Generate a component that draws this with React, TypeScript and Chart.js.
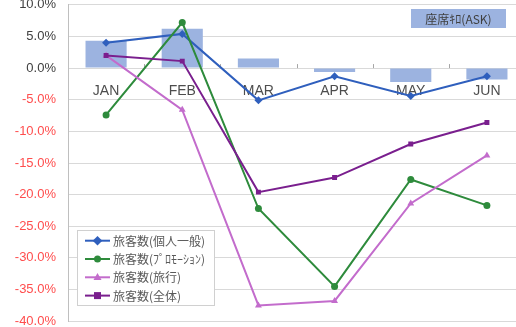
import React, { useEffect, useRef } from "react";
import { Chart, registerables } from "chart.js";

Chart.register(...registerables);

// Month-on-month change, %
const months = ["JAN", "FEB", "MAR", "APR", "MAY", "JUN"];
const seatKm = [4.3, 6.2, 1.5, -0.6, -2.2, -1.8];
const individual = [4.0, 5.4, -5.1, -1.3, -4.4, -1.3];
const promotion = [-7.4, 7.2, -22.2, -34.5, -17.6, -21.7];
const tour = [2.0, -6.6, -37.5, -36.8, -21.4, -13.8];
const total = [2.0, 1.1, -19.6, -17.3, -12.0, -8.6];

const seatKmLabel = "座席ｷﾛ(ASK)";
const lineLabels = ["旅客数(個人一般)", "旅客数(ﾌﾟﾛﾓｰｼｮﾝ)", "旅客数(旅行)", "旅客数(全体)"];

const Y_MIN = -40;
const Y_MAX = 10;
const Y_STEP = 5;

const BAR_COLOR = "#9cb3e0";
const LINE_COLORS = ["#2f5fbd", "#2e8b3c", "#c36ccc", "#7a1f8e"];
const POINT_STYLES = ["rectRot", "circle", "triangle", "rect"];
const POINT_RADII = [4, 3.5, 4, 3.5];

const LATIN = "'Liberation Sans', Arial, sans-serif";
const CJK = "'Noto Sans CJK JP', 'Liberation Sans', sans-serif";

const CANVAS_W = 529;
const CANVAS_H = 356;
const CANVAS_TOP = -15;

function drawMarker(ctx: CanvasRenderingContext2D, style: string, x: number, y: number, r: number, color: string) {
  ctx.save();
  ctx.fillStyle = color;
  ctx.beginPath();
  if (style === "circle") {
    ctx.arc(x, y, r, 0, Math.PI * 2);
  } else if (style === "rect") {
    ctx.rect(x - r, y - r, r * 2, r * 2);
  } else if (style === "rectRot") {
    ctx.moveTo(x, y - r * 1.2);
    ctx.lineTo(x + r * 1.2, y);
    ctx.lineTo(x, y + r * 1.2);
    ctx.lineTo(x - r * 1.2, y);
    ctx.closePath();
  } else {
    ctx.moveTo(x, y - r * 1.1);
    ctx.lineTo(x + r, y + r * 0.7);
    ctx.lineTo(x - r, y + r * 0.7);
    ctx.closePath();
  }
  ctx.fill();
  ctx.restore();
}

const decorations = {
  id: "decorations",
  beforeDatasetsDraw(chart: any) {
    const { ctx } = chart;
    const x = chart.scales.x;
    const y = chart.scales.y;
    const y0 = y.getPixelForValue(0);
    ctx.save();
    // category boundary ticks on the zero line
    ctx.strokeStyle = "#a6a6a6";
    ctx.lineWidth = 1;
    for (let i = 0; i < months.length - 1; i++) {
      const bx = Math.round((x.getPixelForValue(i) + x.getPixelForValue(i + 1)) / 2) + 0.5;
      ctx.beginPath();
      ctx.moveTo(bx, y0 - 4);
      ctx.lineTo(bx, y0);
      ctx.stroke();
    }
    // month labels below the zero line
    ctx.fillStyle = "#4d4d4d";
    ctx.font = `14px ${LATIN}`;
    ctx.textAlign = "center";
    ctx.textBaseline = "middle";
    months.forEach((m, i) => {
      ctx.fillText(m, x.getPixelForValue(i), y0 + 23);
    });
    ctx.restore();
  },
  afterDraw(chart: any) {
    const { ctx } = chart;
    ctx.save();
    // seat-km legend, top right
    const ax = 411, ay = 9 - CANVAS_TOP, aw = 95, ah = 19;
    ctx.fillStyle = BAR_COLOR;
    ctx.fillRect(ax, ay, aw, ah);
    ctx.fillStyle = "#404040";
    ctx.font = `12px ${CJK}`;
    ctx.textAlign = "center";
    ctx.textBaseline = "middle";
    ctx.fillText(seatKmLabel, ax + aw / 2, ay + ah / 2 + 0.5);

    // line-series legend, bottom left
    const lx = 77.5, ly = 230.5 - CANVAS_TOP, lw = 137, lh = 75;
    ctx.fillStyle = "#ffffff";
    ctx.fillRect(lx, ly, lw, lh);
    ctx.strokeStyle = "#d0d0d0";
    ctx.lineWidth = 1;
    ctx.strokeRect(lx, ly, lw, lh);
    ctx.font = `12px ${CJK}`;
    ctx.textAlign = "left";
    lineLabels.forEach((label, i) => {
      const ry = 240.7 - CANVAS_TOP + i * 18.3;
      ctx.strokeStyle = LINE_COLORS[i];
      ctx.lineWidth = 2;
      ctx.beginPath();
      ctx.moveTo(85, ry);
      ctx.lineTo(110, ry);
      ctx.stroke();
      drawMarker(ctx, POINT_STYLES[i], 97.5, ry, POINT_RADII[i], LINE_COLORS[i]);
      ctx.fillStyle = "#595959";
      ctx.fillText(label, 113, ry + 0.5);
    });
    ctx.restore();
  },
};

export default function App() {
  const ref = useRef<HTMLCanvasElement | null>(null);

  useEffect(() => {
    if (!ref.current) return;
    const lineSeries = [individual, promotion, tour, total];
    const chart = new Chart(ref.current, {
      type: "bar",
      data: {
        labels: months,
        datasets: [
          {
            type: "bar",
            label: seatKmLabel,
            data: seatKm,
            backgroundColor: BAR_COLOR,
            borderWidth: 0,
            barPercentage: 0.54,
            categoryPercentage: 1,
            order: 10,
          } as any,
          ...lineSeries.map((data, i) => ({
            type: "line",
            label: lineLabels[i],
            data,
            borderColor: LINE_COLORS[i],
            backgroundColor: LINE_COLORS[i],
            borderWidth: 2,
            pointStyle: POINT_STYLES[i],
            pointRadius: POINT_RADII[i],
            pointBorderWidth: 0,
            tension: 0,
            fill: false,
            order: 4 - i,
          })),
        ],
      },
      options: {
        responsive: false,
        animation: false,
        devicePixelRatio: 1,
        layout: { padding: { left: 0, right: 0, top: 0, bottom: 0 } },
        plugins: {
          legend: { display: false },
          tooltip: { enabled: false },
        },
        scales: {
          x: {
            type: "category",
            display: false,
            offset: true,
          },
          y: {
            min: Y_MIN,
            max: Y_MAX,
            afterFit: (scale: any) => {
              scale.width = 68;
            },
            border: { display: true, color: "#bfbfbf", width: 1 },
            grid: {
              color: "#d9d9d9",
              lineWidth: 1,
              drawTicks: false,
            },
            ticks: {
              stepSize: Y_STEP,
              padding: 12,
              font: { family: LATIN, size: 13 },
              color: (c: any) => (c.tick && c.tick.value < 0 ? "#ff4d4d" : "#404040"),
              callback: (v: any) => `${Number(v).toFixed(1)}%`,
            },
          },
        },
      },
      plugins: [decorations],
    } as any);
    return () => chart.destroy();
  }, []);

  return (
    <div
      style={{
        position: "fixed",
        left: 0,
        top: 0,
        width: 516,
        height: 327,
        overflow: "hidden",
        background: "#ffffff",
      }}
    >
      <canvas
        ref={ref}
        width={CANVAS_W}
        height={CANVAS_H}
        style={{ position: "absolute", left: 0, top: CANVAS_TOP, width: CANVAS_W, height: CANVAS_H }}
      />
    </div>
  );
}
